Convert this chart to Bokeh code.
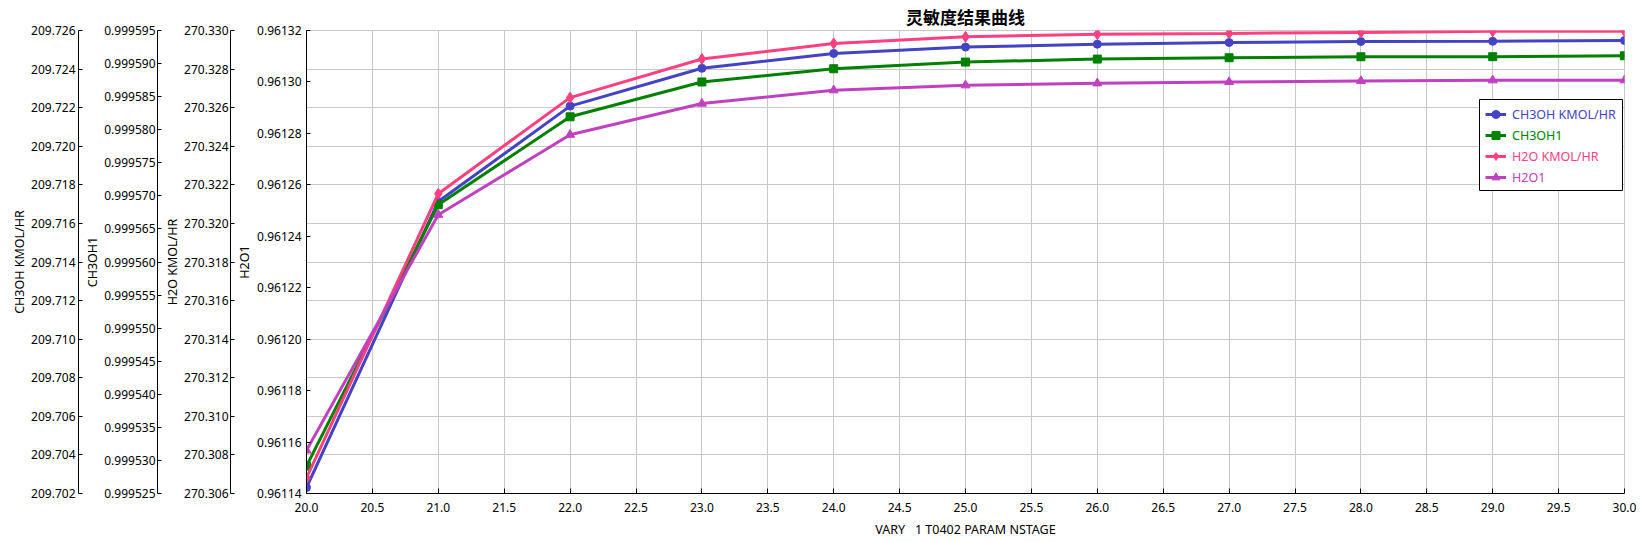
import numpy as np
from bokeh.plotting import figure
from bokeh.models import (Range1d, LinearAxis, FixedTicker, PrintfTickFormatter,
                          Grid, Legend, LegendItem, BoxAnnotation)
from bokeh.embed import file_html
from bokeh.resources import INLINE

# ---------------- data ----------------
stages = [20, 21, 22, 23, 24, 25, 26, 27, 28, 29, 30]
ch3oh_kmol = [209.70231, 209.71714, 209.72208, 209.72404, 209.72481, 209.72514,
              209.72529, 209.72538, 209.72543, 209.72544, 209.72548]
ch3oh1 = [0.99952915, 0.99956866, 0.99958195, 0.99958722, 0.99958922, 0.99959023,
          0.99959068, 0.99959088, 0.99959103, 0.99959104, 0.99959118]
h2o_kmol = [270.30681, 270.32154, 270.32652, 270.32852, 270.32933, 270.32967,
            270.32981, 270.32985, 270.32990, 270.32996, 270.32996]
h2o1 = [0.96115676, 0.96124839, 0.96127947, 0.96129159, 0.96129677, 0.96129871,
        0.96129948, 0.96129999, 0.96130037, 0.96130065, 0.96130065]

series_names = ["CH3OH KMOL/HR", "CH3OH1", "H2O KMOL/HR", "H2O1"]
series_values = [ch3oh_kmol, ch3oh1, h2o_kmol, h2o1]
axis_ranges = [(209.702, 209.726), (0.999525, 0.999595), (270.306, 270.330), (0.96114, 0.96132)]
axis_steps = [0.002, 0.000005, 0.002, 0.00002]
axis_formats = ["%.3f", "%.6f", "%.3f", "%.5f"]
x_ticks = [20.0, 20.5, 21.0, 21.5, 22.0, 22.5, 23.0, 23.5, 24.0, 24.5, 25.0,
           25.5, 26.0, 26.5, 27.0, 27.5, 28.0, 28.5, 29.0, 29.5, 30.0]
title_text = "灵敏度结果曲线"
x_title = "VARY\u00a0\u00a0\u00a01 T0402 PARAM NSTAGE"

# ---------------- styles ----------------
colors = ["#4343C3", "#008000", "#FF4080", "#C040C0"]
markers = ["circle", "square", "diamond", "triangle"]
marker_sizes = [8, 8, 11, 9]
FONT = "Noto Sans"

range_names = ["r%d" % i for i in range(4)]

def axis_ticks(i):
    lo, hi = axis_ranges[i]
    n = int(round((hi - lo) / axis_steps[i]))
    return [round(lo + k * axis_steps[i], 9) for k in range(n + 1)]

p = figure(width=1645, height=542, output_backend="svg", toolbar_location=None,
           x_range=Range1d(20, 30), y_range=Range1d(*axis_ranges[0]),
           y_axis_location=None, x_axis_location="below",
           min_border_left=306, min_border_right=21, min_border_top=28, min_border_bottom=49,
           background_fill_color="white", border_fill_color="white")
p.extra_y_ranges = {range_names[i]: Range1d(*axis_ranges[i]) for i in range(4)}
p.outline_line_color = "#c8c8c8"

# title
p.title.text = title_text
p.title.align = "center"
p.title.text_font = "Noto Sans CJK SC"
p.title.text_font_size = "17px"
p.title.text_font_style = "bold"
p.title.text_color = "black"
p.title.text_line_height = 1.0
p.title.standoff = 3

# grids
for g in p.ygrid:
    g.visible = False
p.add_layout(Grid(dimension=1, ticker=FixedTicker(ticks=axis_ticks(0)),
                  grid_line_color="#c8c8c8", grid_line_width=1), "center")
p.xgrid.ticker = FixedTicker(ticks=x_ticks)
p.xgrid.grid_line_color = "#c8c8c8"

# x axis
xa = p.xaxis[0]
xa.ticker = FixedTicker(ticks=x_ticks)
xa.formatter = PrintfTickFormatter(format="%.1f")
xa.axis_label = x_title
xa.axis_label_text_font = FONT
xa.axis_label_text_font_size = "12.5px"
xa.axis_label_text_font_style = "normal"
xa.axis_label_text_color = "black"
xa.axis_label_standoff = 6
xa.major_label_text_font = FONT
xa.major_label_text_font_size = "12px"
xa.major_label_text_color = "black"
xa.major_label_standoff = 9
xa.major_tick_in = 5
xa.major_tick_out = 0
xa.minor_tick_line_color = None
xa.axis_line_color = "black"
xa.major_tick_line_color = "black"

# y axes, from the frame outward: H2O1, H2O KMOL/HR, CH3OH1, CH3OH KMOL/HR
label_standoffs = [3, 2, 2, 5]
title_standoffs = [0, 0, 0, 1]
spacers = [0, 3, 4, 3]
for i in [3, 2, 1, 0]:
    ax = LinearAxis(y_range_name=range_names[i], axis_label=series_names[i],
                    ticker=FixedTicker(ticks=axis_ticks(i)),
                    formatter=PrintfTickFormatter(format=axis_formats[i]),
                    major_tick_in=4, major_tick_out=0, minor_tick_in=0, minor_tick_out=0,
                    minor_tick_line_color=None, axis_line_color="black",
                    major_tick_line_color="black",
                    major_label_standoff=label_standoffs[i],
                    major_label_text_font=FONT, major_label_text_font_size="12px",
                    major_label_text_color="black",
                    axis_label_standoff=title_standoffs[i],
                    axis_label_text_font=FONT, axis_label_text_font_size="12.5px",
                    axis_label_text_font_style="normal", axis_label_text_color="black")
    p.add_layout(ax, "left")
    if spacers[i] > 0:
        lo, hi = axis_ranges[i]
        sp = LinearAxis(y_range_name=range_names[i], ticker=FixedTicker(ticks=[(lo + hi) / 2]),
                        major_label_overrides={(lo + hi) / 2: ""},
                        major_tick_in=0, major_tick_out=spacers[i], minor_tick_in=0, minor_tick_out=0,
                        major_label_standoff=0, axis_line_color=None,
                        major_tick_line_color=None, minor_tick_line_color=None,
                        major_label_text_color=None)
        p.add_layout(sp, "left")

# series
rends = []
for i in range(4):
    ln = p.line(stages, series_values[i], y_range_name=range_names[i],
                line_color=colors[i], line_width=3)
    sc = p.scatter(stages, series_values[i], y_range_name=range_names[i],
                   marker=markers[i], size=marker_sizes[i],
                   fill_color=colors[i], line_color=colors[i])
    rends.append([ln, sc])

# legend box + per-series legends (each label in its series colour)
p.add_layout(BoxAnnotation(left=1173, right=1316, bottom=303, top=394,
                           left_units="screen", right_units="screen",
                           top_units="screen", bottom_units="screen",
                           fill_color="white", fill_alpha=1.0,
                           line_color="black", line_width=1, line_alpha=1.0))
for i in range(4):
    leg = Legend(items=[LegendItem(label=series_names[i], renderers=rends[i])],
                 location=(1179, 369 - 21.1 * i), padding=0, margin=0, spacing=0,
                 border_line_color=None, background_fill_alpha=0,
                 label_text_color=colors[i], label_text_font=FONT,
                 label_text_font_size="12.5px", glyph_width=21, glyph_height=20,
                 label_height=20, label_standoff=6)
    p.add_layout(leg, "center")

open("out.html", "w").write(file_html(p, INLINE))
